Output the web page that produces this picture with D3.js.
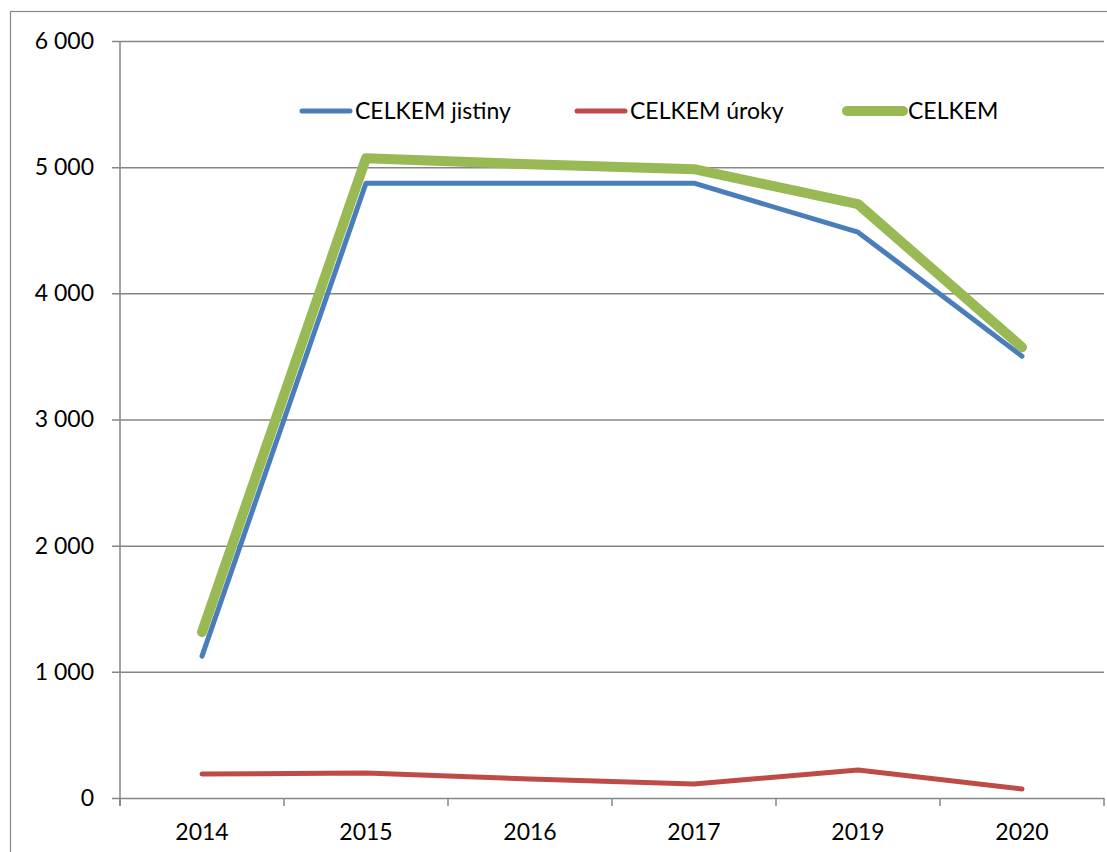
<!DOCTYPE html>
<html>
<head>
<meta charset="utf-8">
<script src="https://cdn.jsdelivr.net/npm/d3@7"></script>
<style>
  body { margin: 0; background: #fff; }
  svg text { font-family: Lato, "Open Sans", sans-serif; fill: #000; }
</style>
</head>
<body>
<svg id="chart" width="1107" height="852"></svg>
<script>
// data
var years = ['2014', '2015', '2016', '2017', '2019', '2020'];
var jistiny = [1125, 4873, 4873, 4873, 4485, 3502];
var uroky = [190, 198, 150, 111, 222, 71];
var celkem = [1315, 5071, 5023, 4984, 4707, 3573];
var yTicks = [0, 1000, 2000, 3000, 4000, 5000, 6000];

var series = [
    { name: 'CELKEM jistiny', values: jistiny, color: '#4a7ebb', width: 5 },
    { name: 'CELKEM úroky', values: uroky, color: '#be4b48', width: 5 },
    { name: 'CELKEM', values: celkem, color: '#98b954', width: 10 }
];

var svg = d3.select('#chart');

// outer chart frame (runs off the bottom/right edge like the screenshot)
svg.append('rect')
    .attr('x', 10.5).attr('y', 11.5)
    .attr('width', 1120).attr('height', 860)
    .attr('fill', 'none').attr('stroke', '#898989').attr('stroke-width', 1.2);

var plotL = 120, plotR = 1104, plotT = 41, plotB = 798;
var fontSize = '23px';

var x = d3.scaleBand().domain(years).range([plotL, plotR]);
var y = d3.scaleLinear().domain([0, 6000]).range([plotB, plotT]);

function fmt(v) { return d3.format(',')(v).replace(/,/g, ' '); }

// horizontal gridlines + y labels
var yAxis = d3.axisLeft(y).tickValues(yTicks).tickSize(-(plotR - plotL)).tickPadding(0).tickFormat(fmt);
var gy = svg.append('g').attr('transform', 'translate(' + plotL + ',0)').call(yAxis);
gy.select('.domain').remove();
gy.selectAll('.tick line')
    .attr('x1', -8)
    .attr('stroke', '#868686').attr('stroke-width', 1.5);
gy.selectAll('.tick text')
    .attr('x', -26).attr('dy', '0.32em')
    .style('font-size', fontSize).style('font-family', 'Lato, sans-serif').attr('fill', '#000');

// vertical axis line
svg.append('line')
    .attr('x1', plotL).attr('x2', plotL).attr('y1', plotT).attr('y2', plotB + 8)
    .attr('stroke', '#868686').attr('stroke-width', 1.5);

// x axis: ticks at band edges, labels at band centres
var edges = years.map(function (d) { return x(d); }).concat([plotR]);
svg.append('g').selectAll('line').data(edges).enter().append('line')
    .attr('x1', function (d) { return d; }).attr('x2', function (d) { return d; })
    .attr('y1', plotB).attr('y2', plotB + 8)
    .attr('stroke', '#868686').attr('stroke-width', 1.5);

svg.append('g').selectAll('text').data(years).enter().append('text')
    .attr('x', function (d) { return x(d) + x.bandwidth() / 2; })
    .attr('y', plotB + 42)
    .attr('text-anchor', 'middle')
    .style('font-size', fontSize)
    .text(function (d) { return d; });

// lines
var line = d3.line()
    .x(function (d, i) { return x(years[i]) + x.bandwidth() / 2; })
    .y(function (d) { return y(d); });

svg.append('g').selectAll('path').data(series).enter().append('path')
    .attr('d', function (s) { return line(s.values); })
    .attr('fill', 'none')
    .attr('stroke', function (s) { return s.color; })
    .attr('stroke-width', function (s) { return s.width; })
    .attr('stroke-linecap', 'round')
    .attr('stroke-linejoin', 'round');

// legend
var legendX = [302, 577, 847];
var lg = svg.append('g').selectAll('g').data(series).enter().append('g')
    .attr('transform', function (s, i) { return 'translate(' + legendX[i] + ',111)'; });
lg.append('line')
    .attr('x1', 0).attr('x2', function (s, i) { return i === 2 ? 56 : 48; })
    .attr('stroke', function (s) { return s.color; })
    .attr('stroke-width', function (s) { return s.width; })
    .attr('stroke-linecap', 'round');
lg.append('text')
    .attr('x', function (s, i) { return i === 2 ? 61 : 53; })
    .attr('dy', '0.35em')
    .style('font-size', fontSize)
    .text(function (s) { return s.name; });
</script>
</body>
</html>
